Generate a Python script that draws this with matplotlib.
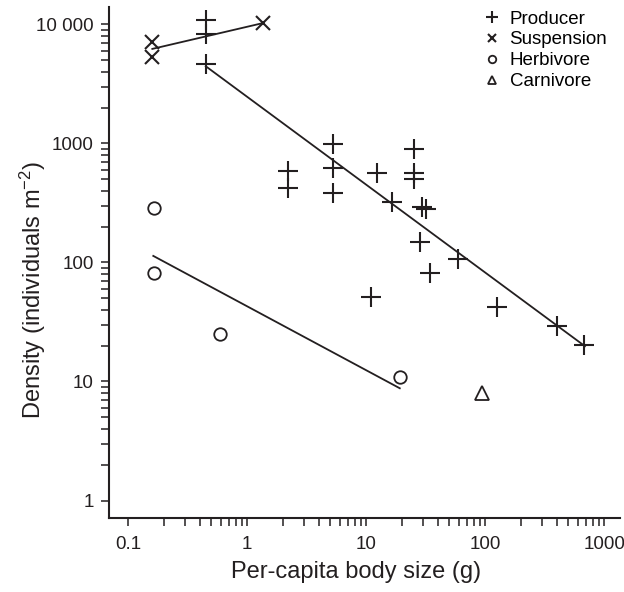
import numpy as np
import matplotlib
matplotlib.use('Agg')
import matplotlib.pyplot as plt
from matplotlib.ticker import FixedLocator, NullFormatter

plt.rcParams['font.family'] = ['Liberation Sans', 'DejaVu Sans']
plt.rcParams['mathtext.default'] = 'regular'

INK = '#231f20'

# body size (g) and density (individuals m^-2)
prod_x = [0.45, 0.45, 0.45, 5.3, 2.2, 2.2, 5.3, 5.3, 12.3, 25.5, 25.5, 25.5,
          16.6, 29.5, 32.0, 28.4, 59.7, 34.5, 10.9, 125, 400, 680]
prod_y = [10900, 8270, 4630, 990, 590, 425, 626, 386, 562, 894, 562, 500,
          322, 290, 280, 148, 106, 82, 51.6, 42, 29.3, 20.1]

susp_x = [0.16, 0.16, 1.35]
susp_y = [7170, 5300, 10240]

herb_x = [0.165, 0.165, 0.59, 19.3]
herb_y = [289, 81, 25.1, 11.0]

carn_x = [95]
carn_y = [7.96]

# fitted lines (end points)
prod_fit_x = [0.45, 690]
prod_fit_y = [4450, 19.8]
susp_fit_x = [0.16, 1.35]
susp_fit_y = [6225, 10240]
herb_fit_x = [0.163, 19.2]
herb_fit_y = [113.5, 8.77]

x_major = [0.1, 1, 10, 100, 1000]
x_labels = ['0.1', '1', '10', '100', '1000']
y_major = [1, 10, 100, 1000, 10000]
y_labels = ['1', '10', '100', '1000', '10 000']

fig = plt.figure(figsize=(6.24, 5.92), dpi=100)
ax = fig.add_axes([109/624, 1 - 518/592, (620 - 109)/624, (518 - 7)/592])

ax.plot(prod_fit_x, prod_fit_y, color=INK, lw=1.3)
ax.plot(susp_fit_x, susp_fit_y, color=INK, lw=1.3)
ax.plot(herb_fit_x, herb_fit_y, color=INK, lw=1.3)

ax.plot(prod_x, prod_y, ls='none', marker='+', ms=14, mew=1.5, color=INK, label='Producer')
ax.plot(susp_x, susp_y, ls='none', marker='x', ms=10.5, mew=1.5, color=INK, label='Suspension')
ax.plot(herb_x, herb_y, ls='none', marker='o', ms=9, mew=1.3, mfc='none', color=INK, label='Herbivore')
ax.plot(carn_x, carn_y, ls='none', marker='^', ms=10.5, mew=1.3, mfc='none', color=INK, label='Carnivore')

ax.set_xscale('log')
ax.set_yscale('log')
ax.set_xlim(0.0692, 1360)
ax.set_ylim(0.713, 14000)

ax.set_xticks(x_major)
ax.set_xticklabels(x_labels)
ax.set_yticks(y_major)
ax.set_yticklabels(y_labels)
# minor ticks only between the labelled decades
x_minor = [m * d for d in x_major[:-1] for m in range(2, 10)]
y_minor = [m * d for d in y_major[:-1] for m in range(2, 10)]
ax.xaxis.set_minor_locator(FixedLocator(x_minor))
ax.yaxis.set_minor_locator(FixedLocator(y_minor))
ax.xaxis.set_minor_formatter(NullFormatter())
ax.yaxis.set_minor_formatter(NullFormatter())

for s in ['top', 'right']:
    ax.spines[s].set_visible(False)
for s in ['left', 'bottom']:
    ax.spines[s].set_linewidth(1.5)
    ax.spines[s].set_color(INK)

ax.tick_params(which='both', direction='out', length=6, width=1.1, color=INK,
               labelsize=13.5, labelcolor=INK)
ax.tick_params(axis='x', pad=7)
ax.tick_params(axis='y', pad=5)

ax.set_xlabel('Per-capita body size (g)', fontsize=17, color=INK)
ax.set_ylabel('Density (individuals m$^{-2}$)', fontsize=17, color=INK)
ax.xaxis.set_label_coords((356 - 109) / 511, -(572 - 518) / 511, transform=ax.transAxes)
ax.yaxis.set_label_coords(-(109 - 33) / 511, (518 - 290) / 511, transform=ax.transAxes)
ax.xaxis.label.set_va('center')
ax.yaxis.label.set_va('center')

ax.legend(loc='upper left', bbox_to_anchor=(473/624, 1 - 1/592), bbox_transform=fig.transFigure,
          frameon=False, fontsize=13.5, markerscale=0.6, handlelength=1.0,
          handletextpad=0.45, labelspacing=0.2, borderpad=0.0)

fig.savefig('out.png', dpi=100)
